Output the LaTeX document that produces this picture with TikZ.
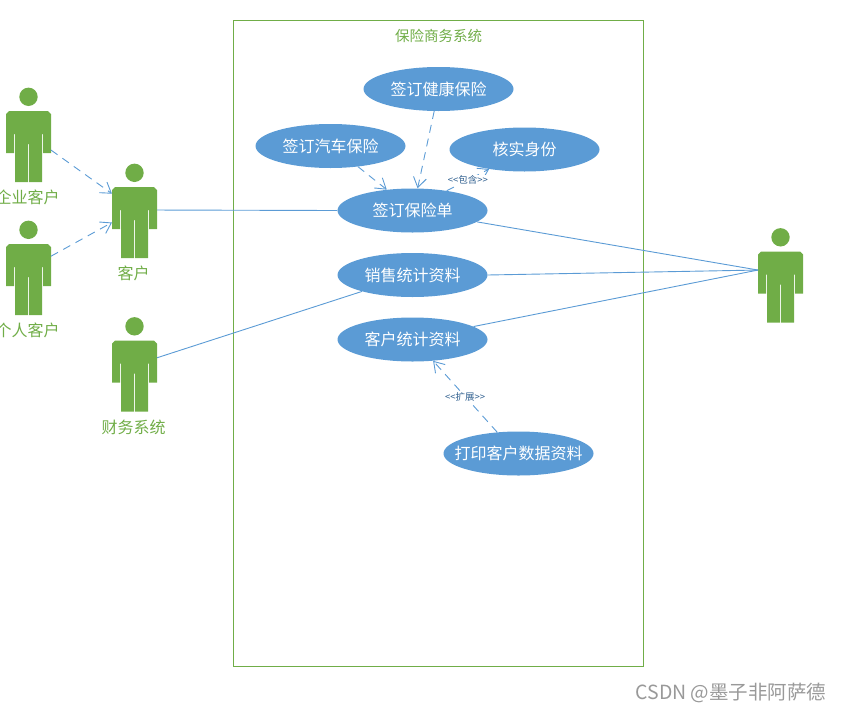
\documentclass[tikz,border=0pt]{standalone}
\usepackage{fontspec}
\setmainfont{Noto Sans CJK SC}
\usetikzlibrary{positioning,shapes.geometric,arrows.meta}
\definecolor{verde}{HTML}{70AD47}
\definecolor{azzurro}{HTML}{5B9BD5}
\definecolor{scuro}{HTML}{2F5F8F}
\tikzset{
  caso/.style   = {ellipse, fill=azzurro, text=white, minimum width=150pt, minimum height=44pt, inner xsep=-30pt, inner ysep=0, font=\fontsize{16}{16}\selectfont},
  corpo/.style  = {rectangle, minimum width=45pt, minimum height=71pt, inner sep=0, outer sep=0},
  et/.style     = {text=verde, inner sep=0, xshift=-1pt, font=\fontsize{16}{16}\selectfont},
  link/.style   = {azzurro, line width=0.9pt},
  dep/.style    = {azzurro, line width=0.9pt, dash pattern=on 8pt off 6pt, -{Straight Barb[length=10pt,width=13pt]}},
  ster/.style   = {text=scuro, fill=white, inner sep=1pt, font=\fontsize{9.5}{10}\selectfont},
  figura/.pic   = {
    \fill[verde] (0,-49.7) circle (9.2);
    \fill[verde] (-19.5,-35.5)--(19.5,-35.5)--(22.5,-32.5)--(22.5,6.5)--(14.5,6.5)--(14.5,-12.5)--(13.5,-12.5)--(13.5,35.5)--(0.5,35.5)--(0.5,-2.5)--(-0.5,-2.5)--(-0.5,35.5)--(-13.5,35.5)--(-13.5,-12.5)--(-14.5,-12.5)--(-14.5,6.5)--(-22.5,6.5)--(-22.5,-32.5)--cycle;
  }
}
\begin{document}
\begin{tikzpicture}[x=1pt,y=-1pt]
  \useasboundingbox (0,0) rectangle (842,712);
  % sistema
  \node[draw=verde, line width=0.8pt, minimum width=410pt, minimum height=646pt, inner sep=0] (sis) at (438.5,343.5){};
  \node[text=verde, inner sep=0, font=\fontsize{14.5}{15}\selectfont, below=9pt of sis.north] (tit) {保险商务系统};
  % attori
  \node[corpo] (qy) at (28.5,146.5){}; \pic at (qy) {figura}; \node[et,below=8pt of qy] (lqy) {企业客户};
  \node[corpo] (gr) at (28.5,279.5){}; \pic at (gr) {figura}; \node[et,below=8pt of gr] (lgr) {个人客户};
  \node[corpo] (kh) at (134.5,222.5){}; \pic at (kh) {figura}; \node[et,below=8pt of kh] (lkh) {客户};
  \node[corpo] (cw) at (134.5,376){}; \pic at (cw) {figura}; \node[et,below=8pt of cw] (lcw) {财务系统};
  \node[corpo] (ge) at (780.5,287){}; \pic at (ge) {figura};
  % casi d'uso
  \node[caso] (jk) at (438.5,89){签订健康保险};
  \node[caso] (qc) at (330.5,146){签订汽车保险};
  \node[caso] (hs) at (524.5,149.5){核实身份};
  \node[caso] (bd) at (412.5,210.5){签订保险单};
  \node[caso] (xs) at (412.5,275){销售统计资料};
  \node[caso] (kt) at (412.5,339.5){客户统计资料};
  \node[caso] (dy) at (518.5,453.5){打印客户数据资料};
  % collegamenti
  \draw[link] (kh.29)--(bd.west);
  \draw[link] (cw.39)--(xs.198);
  \draw[link] (bd.-10)--(ge.143);
  \draw[link] (xs.east)--(ge.143);
  \draw[link] (kt.12.5)--(ge.143);
  \draw[dep] (qy.-9)--(kh.128);
  \draw[dep] (gr.46)--(kh.west);
  \draw[dep] (jk.259)--(bd.77);
  \draw[dep] (qc.-37)--(bd.141);
  \draw[dep] (bd.30)--(hs.209) node[ster,midway] (inc) {<{}<包含>{}>};
  \draw[dep] (dy.135)--(kt.-46) node[ster,midway] (est) {<{}<扩展>{}>};
  % firma
  \node[text=black!40, inner sep=0, font=\fontsize{19.5}{20}\selectfont] (csdn) at (731,693) {CSDN @墨子非阿萨德};
\end{tikzpicture}
\end{document}
